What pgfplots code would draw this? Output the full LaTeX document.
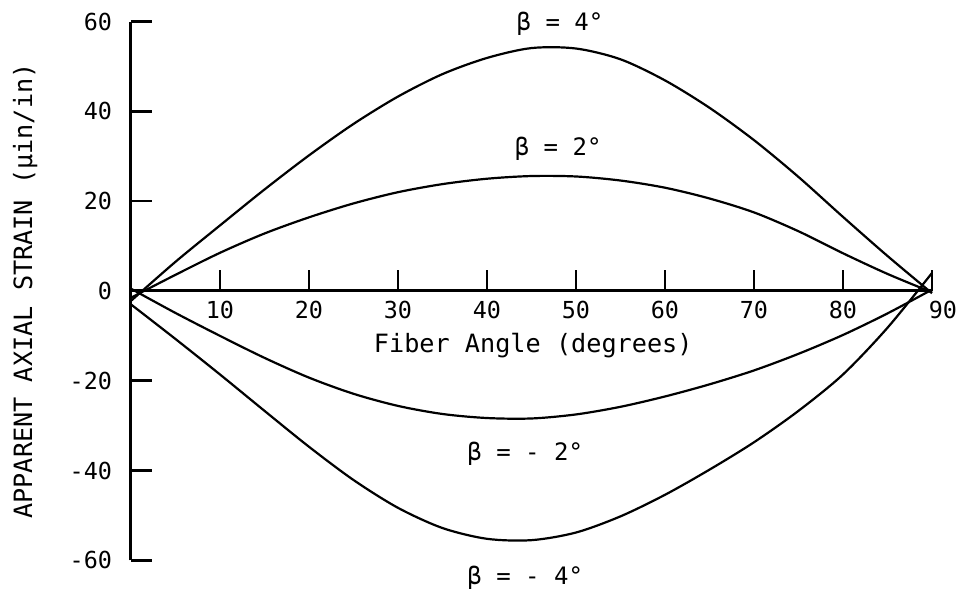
\documentclass[border=0pt]{standalone}
\usepackage{fontspec}
\setmainfont{DejaVu Sans Mono}
\usepackage{pgfplots}
\pgfplotsset{compat=1.18}

\begin{document}
\begin{tikzpicture}[font=\fontsize{12}{14}\selectfont]
\begin{axis}[
    x=4.45pt, y=2.245pt,
    xmin=0, xmax=90, ymin=-60, ymax=60,
    axis lines=middle,
    axis line style={-, line width=1.5pt},
    xtick={10,20,...,90},
    xticklabels={10,20,30,40,50,60,70,80,\hspace*{11pt}90},
    ytick={-60,-40,...,60},
    hide obscured y ticks=false,
    tick align=inside,
    major tick length=10.5pt,
    tick style={line width=1.3pt, black},
    ticklabel style={font=\fontsize{11.7}{14}\selectfont},
    xticklabel style={yshift=-1.5pt},
    yticklabel style={xshift=-6pt},
    /pgf/number format/assume math mode=true,
    clip=false,
]
% beta = 4
\addplot[line width=1.1pt, smooth] coordinates {
    (0,-2.2) (5,6.5) (10,14.6) (15,22.6) (20,30.2) (25,37.2) (30,43.3) (35,48.3)
    (40,51.9) (45,54.1) (50,54.0) (55,51.6) (60,46.9) (65,40.8) (70,33.6)
    (75,25.4) (80,16.5) (85,7.8) (90,-0.5)
};
% beta = 2
\addplot[line width=1.1pt, smooth] coordinates {
    (0,-1.5) (5,3.6) (10,8.5) (15,12.8) (20,16.4) (25,19.5) (30,22.0) (35,23.8)
    (40,25.0) (45,25.6) (50,25.5) (55,24.6) (60,23.0) (65,20.6) (70,17.5)
    (75,13.3) (80,8.4) (85,3.8) (90,-0.3)
};
% beta = -2
\addplot[line width=1.1pt, smooth] coordinates {
    (0,0.5) (5,-4.9) (10,-10.0) (15,-14.9) (20,-19.3) (25,-22.9) (30,-25.6)
    (35,-27.4) (40,-28.3) (45,-28.4) (50,-27.5) (55,-25.8) (60,-23.5)
    (65,-20.8) (70,-17.7) (75,-14.0) (80,-9.8) (85,-5.0) (90,0.3)
};
% beta = -4
\addplot[line width=1.1pt, smooth] coordinates {
    (0,-3) (5,-10.7) (10,-18.6) (15,-26.7) (20,-34.7) (25,-42.1) (30,-48.3)
    (35,-52.8) (40,-55.2) (45,-55.5) (50,-53.8) (55,-50.2) (60,-45.4)
    (65,-39.8) (70,-33.7) (75,-26.7) (80,-18.6) (85,-8.2) (90,4)
};
\node at (axis cs:48.2,59.6) {β = 4°};
\node at (axis cs:48,31.8) {β = 2°};
\node at (axis cs:44.3,-36.3) {β = - 2°};
\node at (axis cs:44.3,-63.9) {β = - 4°};
\node[font=\fontsize{12.6}{14}\selectfont] at (axis cs:45.2,-12.2) {Fiber Angle (degrees)};
\node[rotate=90, font=\fontsize{12.6}{14}\selectfont] at (axis cs:-11.9,0) {APPARENT AXIAL STRAIN (μin/in)};
\coordinate (bbl) at (axis cs:-14.72,-66.59);
\coordinate (btr) at (axis cs:93.15,64.81);
\end{axis}
\pgfresetboundingbox
\path[use as bounding box] (bbl) rectangle (btr);
\end{tikzpicture}
\end{document}
